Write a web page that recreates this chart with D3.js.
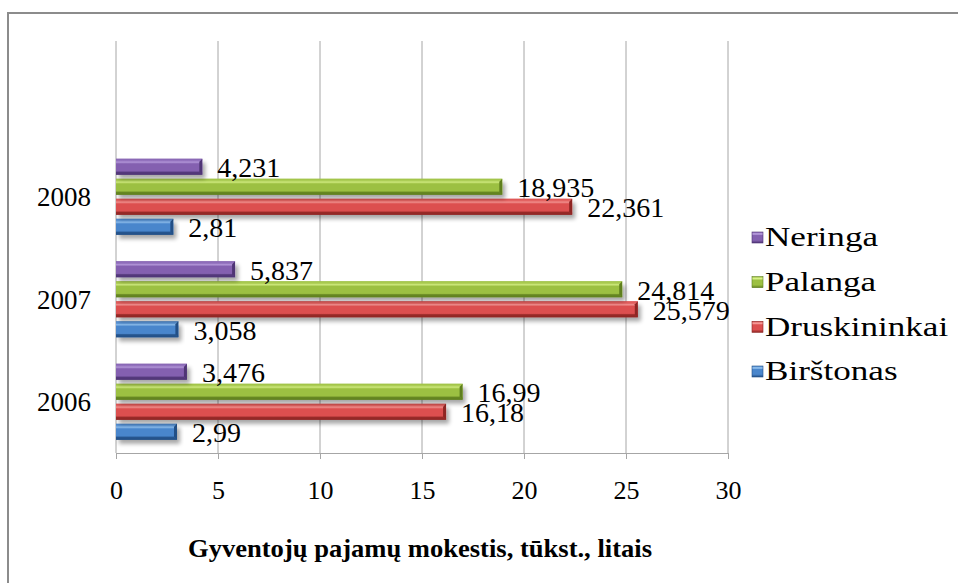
<!DOCTYPE html>
<html>
<head>
<meta charset="utf-8">
<script src="https://cdn.jsdelivr.net/npm/d3@7"></script>
<style>
  body { margin: 0; background: #fff; font-family: 'Liberation Serif', serif; }
  svg { display: block; }
</style>
</head>
<body>
<svg id="canvas"></svg>
<script>
const years = ['2006', '2007', '2008'];
const seriesNames = ['Birštonas', 'Druskininkai', 'Palanga', 'Neringa'];
const birstonas = [2.99, 3.058, 2.81];
const druskininkai = [16.18, 25.579, 22.361];
const palanga = [16.99, 24.814, 18.935];
const neringa = [3.476, 5.837, 4.231];
const xTicks = [0, 5, 10, 15, 20, 25, 30];
const xTitle = 'Gyventojų pajamų mokestis, tūkst., litais';

const seriesValues = [birstonas, druskininkai, palanga, neringa];

const serif = 'Liberation Serif';

// face, highlight, dark
const colors = {
    'Birštonas':    ['#4a86cc', '#9ccaf4', '#224f86'],
    'Druskininkai': ['#dc4f4f', '#f7a3a0', '#8e2523'],
    'Palanga':      ['#9cc042', '#ddf58e', '#5f7f1e'],
    'Neringa':      ['#8461b0', '#c0a6e4', '#4f3575']
};

const width = 958;
const height = 583;

const svg = d3.select('#canvas')
    .attr('width', width)
    .attr('height', height)
    .attr('font-family', serif);

const defs = svg.append('defs');

const shadow = defs.append('filter')
    .attr('id', 'shadow')
    .attr('x', '-5%').attr('y', '-50%')
    .attr('width', '115%').attr('height', '250%');
shadow.append('feGaussianBlur').attr('in', 'SourceAlpha').attr('stdDeviation', 2.2);
shadow.append('feOffset').attr('dx', 3).attr('dy', 4).attr('result', 'blur');
shadow.append('feComponentTransfer').append('feFuncA').attr('type', 'linear').attr('slope', 0.35);
const merge = shadow.append('feMerge');
merge.append('feMergeNode');
merge.append('feMergeNode').attr('in', 'SourceGraphic');

seriesNames.forEach((name, i) => {
    const c = colors[name];
    const g = defs.append('linearGradient')
        .attr('id', 'grad' + i)
        .attr('x1', 0).attr('y1', 0).attr('x2', 0).attr('y2', 1);
    g.append('stop').attr('offset', '0%').attr('stop-color', c[0]);
    g.append('stop').attr('offset', '18%').attr('stop-color', c[1]);
    g.append('stop').attr('offset', '32%').attr('stop-color', c[0]);
    g.append('stop').attr('offset', '75%').attr('stop-color', c[0]);
    g.append('stop').attr('offset', '100%').attr('stop-color', c[2]);
});

// outer frame
svg.append('rect')
    .attr('x', 8).attr('y', 13)
    .attr('width', 980).attr('height', 600)
    .attr('fill', 'none')
    .attr('stroke', '#8c8c8c')
    .attr('stroke-width', 2);

const xScale = d3.scaleLinear()
    .domain([0, 30])
    .range([116, 728]);

const yScale = d3.scaleBand()
    .domain(years)
    .range([453, 145.5]);

const inner = d3.scaleBand()
    .domain(seriesNames)
    .range([yScale.bandwidth(), 0])
    .paddingInner(0.2)
    .paddingOuter(0.66);

// gridlines
svg.append('g')
    .selectAll('line')
    .data(xTicks)
    .enter()
    .append('line')
    .attr('x1', d => xScale(d))
    .attr('x2', d => xScale(d))
    .attr('y1', 41)
    .attr('y2', 453)
    .attr('stroke', '#a6a6a6')
    .attr('stroke-width', 1);

// x axis
const xAxis = d3.axisBottom(xScale)
    .tickValues(xTicks)
    .tickSize(6)
    .tickPadding(22)
    .tickFormat(d3.format('d'));

const xg = svg.append('g')
    .attr('transform', 'translate(0, 453)')
    .call(xAxis)
    .attr('font-family', serif)
    .attr('font-size', 26);
xg.select('.domain').attr('stroke', '#a6a6a6');
xg.selectAll('.tick line').attr('stroke', '#a6a6a6');
xg.selectAll('.tick text').attr('fill', '#000');

// y axis labels
const yAxis = d3.axisLeft(yScale)
    .tickSize(0)
    .tickPadding(25);

const yg = svg.append('g')
    .attr('transform', 'translate(116, 0)')
    .call(yAxis)
    .attr('font-family', serif)
    .attr('font-size', 27);
yg.select('.domain').remove();
yg.selectAll('.tick text')
    .attr('dy', '0.36em')
    .attr('fill', '#000');

// bars
const bev = 3;
seriesNames.forEach((name, i) => {
    const c = colors[name];
    const g = svg.append('g')
        .attr('class', 'series')
        .attr('font-family', serif)
        .attr('font-size', 28);
    const bars = g.selectAll('g.bar')
        .data(seriesValues[i])
        .enter()
        .append('g')
        .attr('class', 'bar')
        .attr('transform', (d, j) => 'translate(0,' + (yScale(years[j]) + inner(name)) + ')');

    const h = inner.bandwidth();
    const x0 = xScale(0);

    bars.append('rect')
        .attr('x', x0)
        .attr('y', 0)
        .attr('width', d => xScale(d) - x0)
        .attr('height', h)
        .attr('fill', 'url(#grad' + i + ')')
        .attr('filter', 'url(#shadow)');

    // top bevel
    bars.append('path')
        .attr('d', d => {
            const x1 = xScale(d);
            return `M${x0},0 L${x1},0 L${x1 - bev},${bev} L${x0},${bev} Z`;
        })
        .attr('fill', c[0])
        .attr('opacity', 0.6);
    // bottom bevel
    bars.append('path')
        .attr('d', d => {
            const x1 = xScale(d);
            return `M${x0},${h} L${x1},${h} L${x1 - bev},${h - bev} L${x0},${h - bev} Z`;
        })
        .attr('fill', c[2])
        .attr('opacity', 0.8);
    // right end bevel
    bars.append('path')
        .attr('d', d => {
            const x1 = xScale(d);
            return `M${x1},0 L${x1},${h} L${x1 - bev},${h - bev} L${x1 - bev},${bev} Z`;
        })
        .attr('fill', c[2]);

    bars.append('text')
        .attr('x', d => xScale(d) + 15)
        .attr('y', h / 2 + 1)
        .attr('dy', '0.34em')
        .attr('fill', '#000')
        .text(d => String(d).replace('.', ','));
});

// legend
const legendNames = seriesNames.slice().reverse();
const legendY = d3.scalePoint()
    .domain(legendNames)
    .range([237, 371]);

const legend = svg.append('g')
    .attr('font-family', serif)
    .attr('font-size', 27)
    .selectAll('g')
    .data(legendNames)
    .enter()
    .append('g')
    .attr('transform', d => 'translate(752,' + legendY(d) + ')');

legend.append('rect')
    .attr('x', 0)
    .attr('y', -5)
    .attr('width', 11)
    .attr('height', 11)
    .attr('fill', d => 'url(#grad' + seriesNames.indexOf(d) + ')')
    .attr('stroke', d => colors[d][2])
    .attr('stroke-width', 0.6);

// legend text in the picture is stretched sideways
legend.append('text')
    .attr('transform', 'translate(13,0) scale(1.3,1)')
    .attr('dy', '0.35em')
    .attr('fill', '#000')
    .text(d => d);

// axis title
svg.append('text')
    .attr('x', 420)
    .attr('y', 548)
    .attr('text-anchor', 'middle')
    .attr('dy', '0.35em')
    .attr('font-size', 26)
    .attr('font-weight', 'bold')
    .attr('fill', '#000')
    .attr('textLength', 464)
    .attr('lengthAdjust', 'spacingAndGlyphs')
    .text(xTitle);
</script>
</body>
</html>
